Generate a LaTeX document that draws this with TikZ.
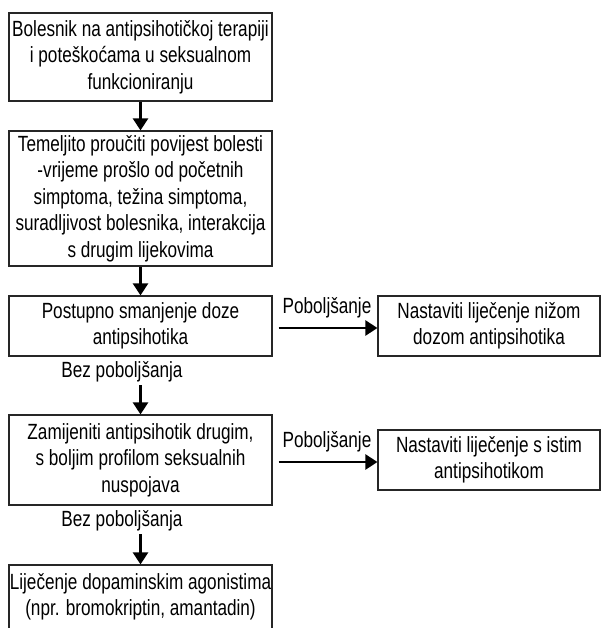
\documentclass[tikz,border=0pt]{standalone}
\usepackage{fontspec}
\setmainfont{Liberation Sans}[FakeStretch=0.78]
\usetikzlibrary{arrows.meta}
\tikzset{
  box/.style={draw, draw=black!85, line width=1.2pt, align=center, inner sep=0pt, minimum width=263pt,
    font=\fontsize{22}{26.5}\selectfont},
  rbox/.style={box, minimum width=222pt, minimum height=60pt},
  lbl/.style={inner sep=0pt, font=\fontsize{22}{26.5}\selectfont},
  arr/.style={line width=2.6pt, -{Triangle[length=12pt,width=15pt]}}
}
\begin{document}
\begin{tikzpicture}[x=1pt,y=-1pt]
\useasboundingbox (0,0) rectangle (601,628);
\clip (0,0) rectangle (601,628);
\node[box, minimum height=88pt] (b1) at (140.5,57) {Bolesnik na antipsihotičkoj terapiji\\i poteškoćama u seksualnom\\funkcioniranju};
\node[box, minimum height=135pt] (b2) at (140.5,198.5) {Temeljito proučiti povijest bolesti\\-vrijeme prošlo od početnih\\simptoma, težina simptoma,\\suradljivost bolesnika, interakcija\\s drugim lijekovima};
\node[box, minimum height=60pt] (b3) at (140.5,326) {Postupno smanjenje doze\\antipsihotika};
\node[rbox] (r1) at (489,326) {Nastaviti liječenje nižom\\dozom antipsihotika};
\node[box, minimum height=90pt] (b4) at (140.5,460) {Zamijeniti antipsihotik drugim,\\s boljim profilom seksualnih\\nuspojava};
\node[rbox] (r2) at (489,460) {Nastaviti liječenje s istim\\antipsihotikom};
\node[box, minimum height=64pt] (b5) at (140.5,597) {Liječenje dopaminskim agonistima\\(npr. bromokriptin, amantadin)};
\node[lbl] (z1) at (122,372) {Bez poboljšanja};
\node[lbl] (z2) at (122,521) {Bez poboljšanja};
\node[lbl] (p1) at (327,308) {Poboljšanje};
\node[lbl] (p2) at (327,442) {Poboljšanje};
\coordinate (s1) at (140.5,385);
\coordinate (s2) at (140.5,534);
\draw[arr] (b1.south) -- (b2.north);
\draw[arr] (b2.south) -- (b3.north);
\draw[arr] (s1) -- (b4.north);
\draw[arr] (s2) -- (b5.north);
\draw[arr, shorten <=6pt] (b3.east |- 0,328) -- (r1.west |- 0,328);
\draw[arr, shorten <=6pt] (b4.east |- 0,462) -- (r2.west |- 0,462);
\end{tikzpicture}
\end{document}
